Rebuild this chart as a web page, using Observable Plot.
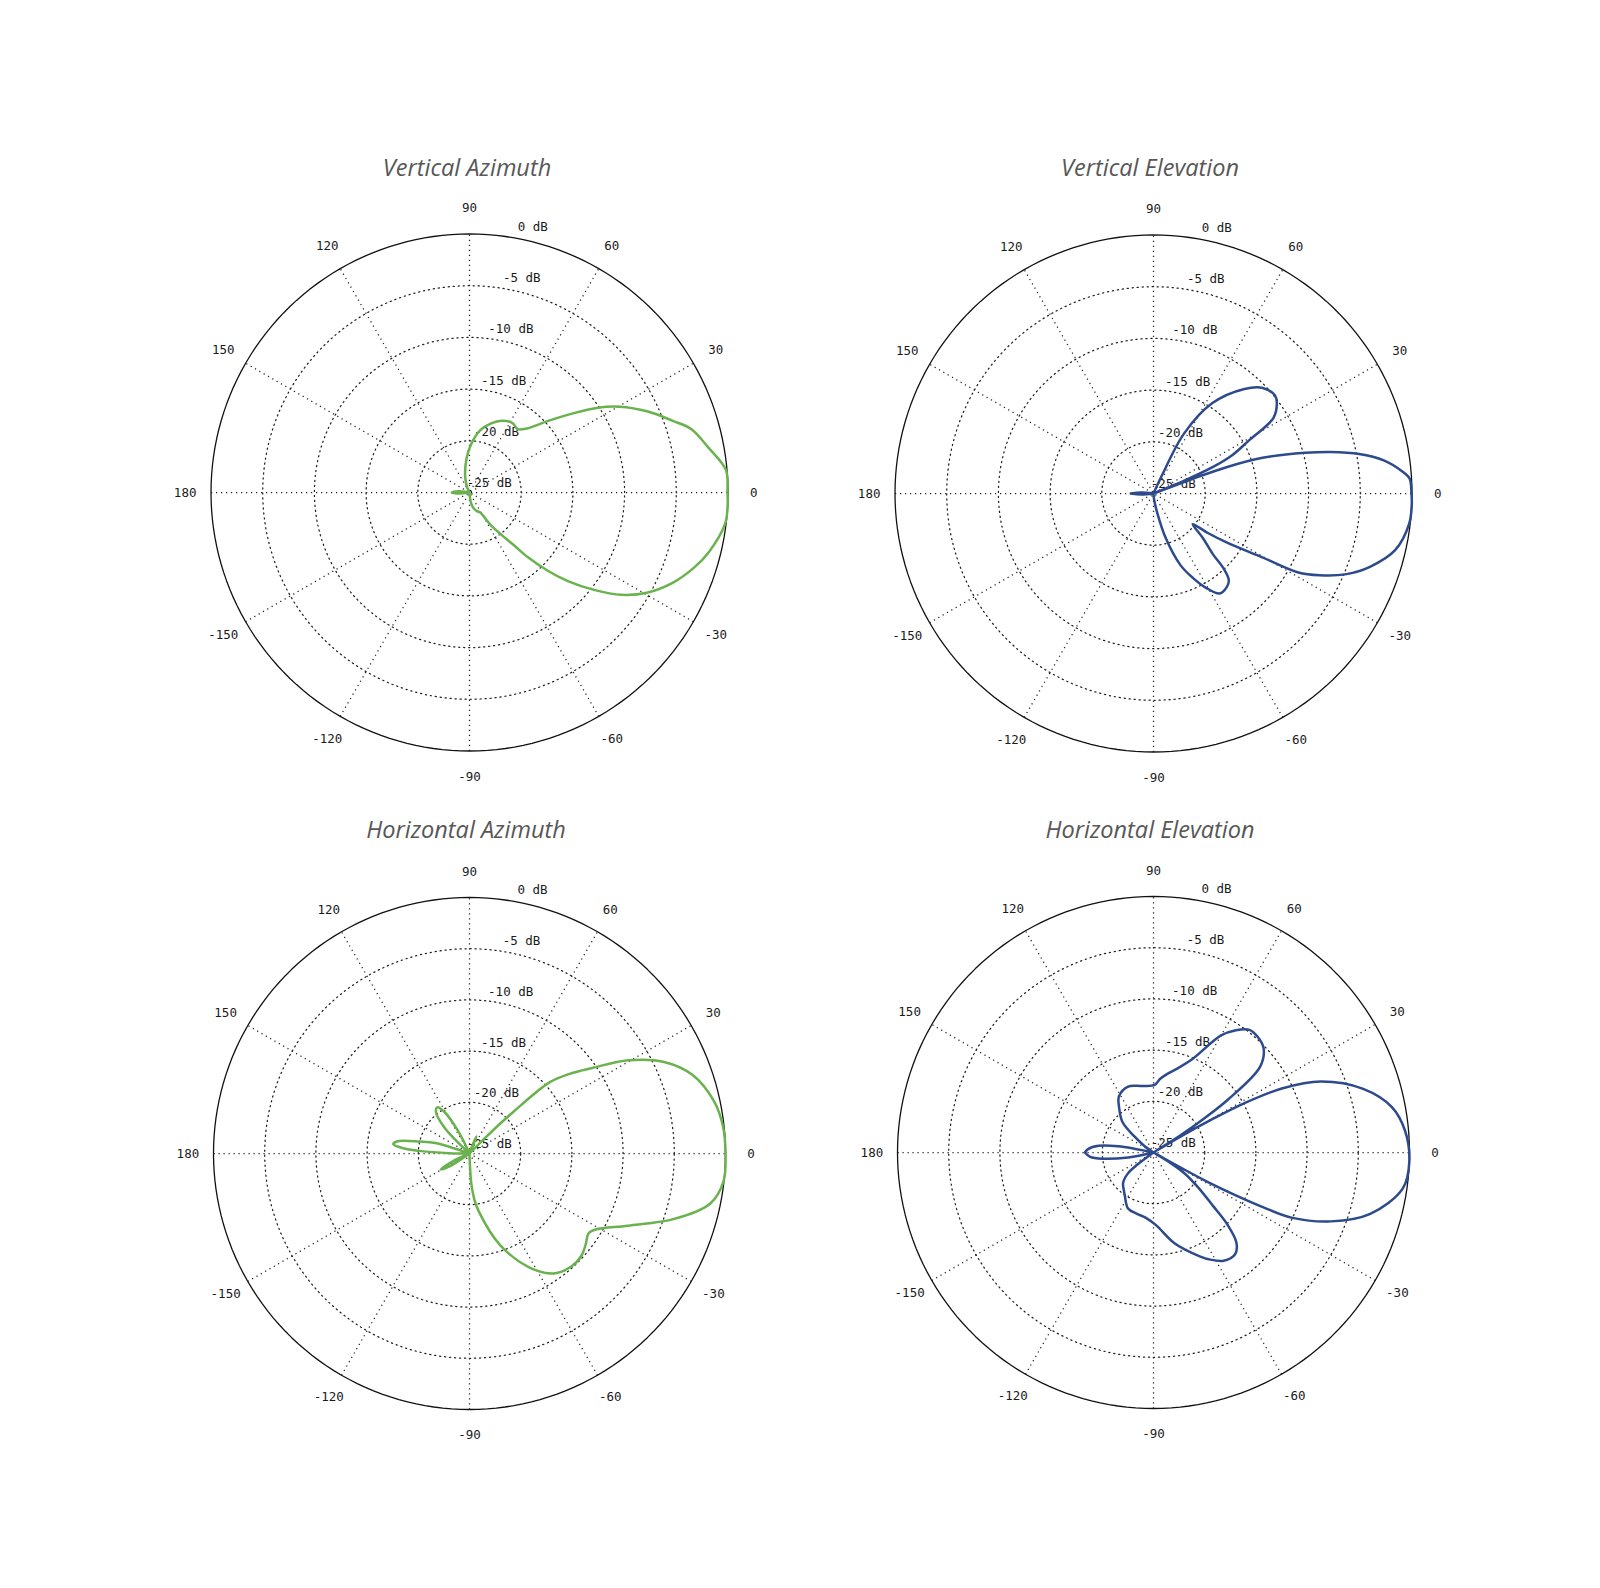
<!DOCTYPE html>
<html>
<head>
<meta charset="utf-8">
<script src="https://cdn.jsdelivr.net/npm/d3@7"></script>
<script src="https://cdn.jsdelivr.net/npm/@observablehq/plot@0.6"></script>
<style>
  html, body { margin: 0; padding: 0; background: #fff; }
  #root { position: relative; width: 1600px; height: 1588px; background: #fff; overflow: hidden; }
  .panel { position: absolute; width: 640px; height: 640px; }
  .title { position: absolute; font-family: "Open Sans", sans-serif; font-style: italic; font-size: 23.5px;
           line-height: 23.5px; color: #575757; white-space: nowrap; transform: translateX(-50%); }
</style>
</head>
<body>
<div id="root"></div>
<script>
// ---- tick values and labels ----
const angleTicks = [0, 30, 60, 90, 120, 150, 180, -150, -120, -90, -60, -30];
const angleTickLabels = ["0", "30", "60", "90", "120", "150", "180", "-150", "-120", "-90", "-60", "-30"];
const spokeAngles = [0, 30, 60, 90, 120, 150];
const ringDb = [0, -5, -10, -15, -20, -25];
const ringLabels = ["0 dB", "-5 dB", "-10 dB", "-15 dB", "-20 dB", "-25 dB"];
const dbMin = -25;

// ---- series: [angle in degrees, gain in dB] ----
const verticalAzimuth = [
  [-180, -23.3], [-177, -23.6], [-172, -24.4], [-165, -25], [-120, -25], [-90, -25],
  [-85, -24.5], [-81, -23.9], [-75, -23.4], [-69, -23.1], [-62, -22.8], [-57, -21.3],
  [-53, -19.9], [-50, -18.4], [-48, -16.6], [-45, -14.3], [-42, -12.2], [-38, -9.7],
  [-34, -7.3], [-29.5, -5.3], [-24, -3.5], [-18.5, -2.1], [-14, -1.15], [-7, -0.1],
  [-3, 0], [0, -0.05], [5, -0.1], [10.7, -1.5], [16, -2.7], [19.4, -4.15], [24.4, -6.05],
  [29.8, -8.3], [33.4, -10.1], [37.4, -12.4], [42.3, -14.7], [48.2, -16.7], [52.8, -17.3],
  [58.3, -17.1], [65.9, -17.4], [72.6, -18.0], [80.3, -18.9], [88, -20.3], [95, -21.7],
  [106, -23.5], [115, -24.5], [120, -25], [165, -25], [172, -24.3], [177, -23.5], [180, -23.3]
];

const verticalElevation = [
  [-180, -22.8], [-175, -23.8], [-170, -25], [-90, -25], [-85, -24.5], [-79, -23.1],
  [-74.6, -20.5], [-69.4, -17.6], [-65, -16.0], [-61, -14.6], [-56.5, -13.4], [-52, -13.5],
  [-49, -13.9], [-47, -15], [-45.6, -16.8], [-42, -18.6], [-38, -20.2], [-36, -18.5],
  [-33.8, -16.5], [-30.4, -12.8], [-28.6, -9.05], [-26.2, -7.1], [-22.9, -4.9], [-18.7, -2.9],
  [-13.2, -1.0], [-6.7, -0.1], [-2.5, 0], [0, -0.05], [3.4, -0.2], [5.2, -0.9], [8.2, -2.5],
  [10.9, -4.75], [13.2, -7.4], [15, -9.8], [18.1, -13.9], [19.8, -17.5], [20.5, -21],
  [21.5, -25], [22.5, -22], [24, -18.75], [26, -16.5], [29, -14.5], [32.2, -11.3],
  [36.3, -10.2], [39, -9.9], [44, -10.3], [49, -11.6], [57, -14.6], [63, -18.5], [65, -23],
  [68, -25], [170, -25], [175, -23.8], [180, -22.8]
];

const horizontalAzimuth = [
  [-180, -25], [-160, -25], [-155, -23.2], [-151, -21.8], [-147, -22.8], [-143, -25],
  [-90, -25], [-88, -24], [-86.5, -22], [-84, -20.5], [-81, -19.3], [-71.6, -15.6],
  [-62.5, -12.5], [-55, -10.7], [-48, -10.15], [-42.3, -10.2], [-38, -10.6], [-33.8, -11.0],
  [-31, -10.6], [-24.5, -8.0], [-17.7, -4.0], [-11.8, -1.0], [-6.4, -0.05], [0, 0],
  [6, -0.1], [12.2, -0.6], [19.4, -1.9], [25.2, -4.0], [30.4, -7.0], [34.9, -10.4],
  [38.5, -12.5], [41.6, -14.5], [43.5, -19], [45, -22.8], [47, -25], [62, -25], [66, -24],
  [68, -23.2], [70, -24], [74, -25], [112, -25], [117, -22.5], [121, -20.3], [125, -19.5],
  [129, -19.8], [134, -21.5], [140, -25], [158, -25], [163, -21.5], [166.5, -20], [170, -18],
  [173, -17.5], [175.5, -18.5], [177, -20.1], [179, -23], [180, -25]
];

const horizontalElevation = [
  [-180, -18.3], [-176, -18.8], [-173, -20], [-169, -22.5], [-165, -25], [-148, -25],
  [-143, -23], [-140.6, -21.75], [-135, -20.8], [-128, -20.3], [-123.7, -19.95],
  [-114.5, -19.0], [-105, -18.8], [-97, -18.6], [-88, -17.9], [-77, -15.9], [-66, -13.9],
  [-62, -13.15], [-57, -12.4], [-51.4, -12.25], [-47.5, -13], [-44.3, -14.9], [-42, -17.1],
  [-38, -19.5], [-34, -21.3], [-31, -23.5], [-29.5, -25], [-29, -22], [-28.5, -19],
  [-27.5, -16], [-26.5, -13], [-25.2, -10], [-21.2, -6.4], [-15.8, -3], [-8.2, -0.4],
  [-2, 0], [5, -0.35], [10.8, -1.3], [16.9, -3.6], [23, -7.25], [26.5, -11], [28.5, -15],
  [29.5, -18.5], [30.5, -22], [31.5, -25], [32.5, -22], [34, -19], [35.4, -16.1],
  [38.8, -11.65], [43.4, -10.2], [48, -9.8], [52, -9.8], [56, -10.6], [60, -11.8],
  [67.5, -15.15], [75, -16.6], [80, -17.2], [85, -17.8], [89, -18.4], [100, -18.4],
  [111, -18.1], [121.5, -18.55], [127, -19.4], [135.5, -20.75], [140, -22.6], [144, -23.8],
  [148, -25], [165, -25], [170, -21.5], [173, -19.6], [177, -18.6], [180, -18.3]
];

const panels = [
  {title: "Vertical Azimuth",     series: verticalAzimuth,     color: "#6ab24e", cx: 469,  cy: 492,   R: 258.5, tx: 467,  tb: 177},
  {title: "Vertical Elevation",   series: verticalElevation,   color: "#2d4a8c", cx: 1153, cy: 492.5, R: 258.5, tx: 1150, tb: 177},
  {title: "Horizontal Azimuth",   series: horizontalAzimuth,   color: "#6ab24e", cx: 469,  cy: 1152.5, R: 256,  tx: 466,  tb: 839},
  {title: "Horizontal Elevation", series: horizontalElevation, color: "#2d4a8c", cx: 1153, cy: 1151.5, R: 256,  tx: 1150, tb: 839}
];

const toRad = Math.PI / 180;
const radius = v => Math.max(0, v - dbMin);           // dB -> radial units
const px = (a, r) => r * Math.cos(a * toRad);
const py = (a, r) => r * Math.sin(a * toRad);
const rMax = -dbMin;

function polarChart(p) {
  const W = 640, H = 640;
  const k = p.R / rMax;             // pixels per radial unit
  const half = (W / 2) / k;
  const ringPts = [];
  for (const v of ringDb.filter(v => v > dbMin)) {
    for (let a = 0; a <= 360; a += 2) ringPts.push({v, a});
  }
  return Plot.plot({
    width: W, height: H, margin: 0,
    x: {domain: [-half, half], axis: null},
    y: {domain: [-(H / 2) / k, (H / 2) / k], axis: null},
    style: {fontFamily: "'DejaVu Sans Mono', monospace", fontSize: "12.5px", color: "#1a1a1a",
            background: "transparent", maxWidth: "none", overflow: "visible"},
    marks: [
      Plot.line(ringPts.filter(d => d.v < 0), {
        x: d => px(d.a, radius(d.v)), y: d => py(d.a, radius(d.v)), z: "v",
        stroke: "#222", strokeWidth: 1.25, strokeDasharray: "1.2,3.8"
      }),
      Plot.link(spokeAngles, {
        x1: a => px(a, -rMax), y1: a => py(a, -rMax), x2: a => px(a, rMax), y2: a => py(a, rMax),
        stroke: "#222", strokeWidth: 1.25, strokeDasharray: "1.2,3.8"
      }),
      Plot.line(ringPts.filter(d => d.v === 0), {
        x: d => px(d.a, radius(d.v)), y: d => py(d.a, radius(d.v)),
        stroke: "#111", strokeWidth: 1.3
      }),
      Plot.text(angleTicks, {
        x: a => px(a, rMax * 1.1), y: a => py(a, rMax * 1.1),
        text: (a, i) => angleTickLabels[i], textAnchor: "middle"
      }),
      Plot.text(ringDb, {
        x: v => px(82, radius(v) + 0.25), y: v => py(82, radius(v) + 0.25),
        text: (v, i) => ringLabels[i], textAnchor: "end", dx: 42, dy: -7
      }),
      Plot.line(p.series, {
        x: d => px(d[0], radius(d[1])), y: d => py(d[0], radius(d[1])),
        stroke: p.color, strokeWidth: 2.5, curve: "catmull-rom", strokeLinejoin: "round"
      })
    ]
  });
}

const root = document.getElementById("root");
for (const p of panels) {
  const div = document.createElement("div");
  div.className = "panel";
  div.style.left = (p.cx - 320) + "px";
  div.style.top = (p.cy - 320) + "px";
  div.appendChild(polarChart(p));
  root.appendChild(div);
}
for (const p of panels) {
  const t = document.createElement("div");
  t.className = "title";
  t.textContent = p.title;
  t.style.left = p.tx + "px";
  t.style.top = (p.tb - 0.888 * 23.5) + "px";
  root.appendChild(t);
}
</script>
</body>
</html>
